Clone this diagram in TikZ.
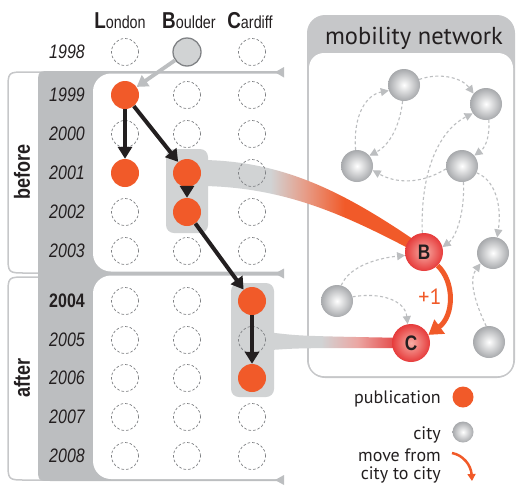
\documentclass[tikz,border=0pt]{standalone}
\usepackage{fontspec}
\setmainfont{PT Sans}
\newfontfamily\cond[FakeStretch=0.82]{Liberation Sans}
\usetikzlibrary{arrows.meta}
\definecolor{orng}{HTML}{F15A29}
\definecolor{ink}{HTML}{231F20}
\definecolor{bandgray}{HTML}{BCBEC0}
\definecolor{framegray}{HTML}{C6C7C9}
\definecolor{hlgray}{HTML}{D1D3D4}
\definecolor{dashgray}{HTML}{808285}
\definecolor{edgegray}{HTML}{BCBEC0}
\definecolor{ballout}{HTML}{A7A9AC}
\definecolor{redin}{HTML}{F8ADA5}
\definecolor{redout}{HTML}{E63B3B}
\definecolor{ribsalmon}{HTML}{E79C87}
\definecolor{ribpink}{HTML}{EBA7A3}
\definecolor{ribred}{HTML}{E44848}
\pgfdeclarehorizontalshading{ribB}{100bp}{color(0bp)=(hlgray); color(40bp)=(hlgray); color(48bp)=(ribsalmon); color(57bp)=(orng); color(100bp)=(orng)}
\pgfdeclarehorizontalshading{ribC}{100bp}{color(0bp)=(hlgray); color(43bp)=(hlgray); color(56bp)=(ribpink); color(70bp)=(ribred); color(100bp)=(ribred)}
\begin{document}
\begin{tikzpicture}[x=1pt,y=-1pt,
  pub/.style={circle, fill=orng, minimum size=28pt, inner sep=0pt},
  slot/.style={circle, draw=dashgray, line width=0.7pt, dash pattern=on 2.6pt off 2pt, minimum size=27pt, inner sep=0pt},
  city/.style={circle, inner color=white, outer color=ballout, minimum size=32pt, inner sep=0pt},
  hub/.style={circle, inner color=redin, outer color=redout, minimum size=38pt, inner sep=0pt, font=\cond\bfseries\fontsize{21}{21}\selectfont, text=ink},
  hbox/.style={fill=hlgray, rounded corners=8pt, inner sep=0pt},
  pubarrow/.style={draw=ink, line width=4pt, -{Triangle[length=12pt,width=14pt]}},
  netedge/.style={draw=edgegray, line width=1.1pt, dash pattern=on 3pt off 2.5pt, -{Triangle[length=8pt,width=8pt]}},
  yearlbl/.style={anchor=east, inner sep=0pt, font=\cond\itshape\fontsize{19.5}{20}\selectfont, text=ink},
  collbl/.style={anchor=base, inner sep=0pt, text=ink},
  phase/.style={rotate=90, inner sep=0pt, font=\cond\bfseries\fontsize{22}{22}\selectfont, text=ink},
  legtext/.style={anchor=base east, inner sep=0pt, font=\fontsize{18}{19}\selectfont, text=ink},
  tri/.style={fill=bandgray}
]
\useasboundingbox (0,0) rectangle (518,485);

% ---- left timeline frame ----
\draw[framegray, line width=1.5pt] (45,273) -- (26,273) .. controls (8,273) .. (8,255) -- (8,90) .. controls (8,72) .. (26,72) -- (60,72);
\draw[framegray, line width=1.5pt] (45,277) -- (26,277) .. controls (8,277) .. (8,295) -- (8,462) .. controls (8,480) .. (26,480) -- (60,480);
\fill[bandgray] (38,85) .. controls (38,71) .. (52,71) -- (280,71) -- (280,481) -- (52,481) .. controls (38,481) .. (38,467) -- cycle;
\fill[white, rounded corners=18pt] (93,73.5) rectangle (300,271.5);
\fill[white, rounded corners=18pt] (93,275.5) rectangle (300,479);
\fill[tri] (275,72.2) -- (284,67) -- (284,77.5) -- cycle;
\fill[tri] (275,273.5) -- (284,268.5) -- (284,278.5) -- cycle;
\fill[tri] (275,480) -- (284,475) -- (284,485) -- cycle;

\node[phase] (before) at (22,172) {before};
\node[phase] (after) at (22,378) {after};

% ---- column headers ----
\node[collbl] (hL) at (120,28) {{\cond\bfseries\fontsize{23}{23}\selectfont L}{\cond\fontsize{17.5}{17.5}\selectfont ondon}};
\node[collbl] (hB) at (189,28) {{\cond\bfseries\fontsize{23}{23}\selectfont B}{\cond\fontsize{17.5}{17.5}\selectfont oulder}};
\node[collbl] (hC) at (250,28) {{\cond\bfseries\fontsize{23}{23}\selectfont C}{\cond\fontsize{17.5}{17.5}\selectfont ardiff}};

% ---- year labels ----
\foreach \yr/\y in {1998/52,1999/95,2000/134,2001/173,2002/212,2003/251,2005/340,2006/378,2007/417,2008/456}
  \node[yearlbl] (y\yr) at (85,\y) {\yr};
\node[yearlbl, font=\cond\bfseries\fontsize{19.5}{20}\selectfont] (y2004) at (85,301) {2004};

% ---- highlight boxes ----
\node[hbox, minimum width=42pt, minimum height=84pt] (boxB) at (187,191) {};
\node[hbox, minimum width=43pt, minimum height=114pt] (boxC) at (252.5,340) {};

% ---- mobility network box ----
\fill[framegray, rounded corners=18pt] (307,15) rectangle (515,378);
\fill[white, rounded corners=15pt] (309,53) rectangle (513,376);
\node[inner sep=0pt, anchor=base, font=\fontsize{24.5}{24.5}\selectfont, text=ink] (nettitle) at (414,44) {mobility network};

% ---- ribbons ----
\shade[shading=ribB] (205,160) .. controls (285,162) and (345,192) .. (423,246) -- (423,256) .. controls (348,216) and (288,188) .. (205,186) -- cycle;
\shade[shading=ribC] (271,332.5) .. controls (300,336) .. (410,338) -- (410,348) .. controls (300,348) .. (271,350) -- cycle;

% ---- empty slots ----
\foreach \y in {52,134,212,251,301,340,378,417,456} \node[slot] at (125,\y) {};
\foreach \y in {95,134,251,301,340,378,417,456} \node[slot] at (187,\y) {};
\foreach \y in {52,95,134,173,212,251,340,417,456} \node[slot] at (252,\y) {};

% ---- origin city ----
\node[circle, fill=hlgray, draw=dashgray, line width=1.3pt, minimum size=28pt, inner sep=0pt] (B1998) at (187,52) {};

% ---- publications ----
\node[pub] (L1999) at (125,95) {};
\node[pub] (L2001) at (125,173) {};
\node[pub] (B2001) at (187,173) {};
\node[pub] (B2002) at (187,212) {};
\node[pub] (C2004) at (252,301) {};
\node[pub] (C2006) at (252,378) {};

\draw[draw=bandgray, line width=3.8pt, -{Triangle[length=11pt,width=13pt]}] (B1998) -- (L1999);
\draw[pubarrow] (L1999) -- (L2001);
\draw[pubarrow] (L1999) -- (B2001);
\draw[pubarrow] (B2001) -- (B2002);
\draw[pubarrow] (B2002) -- (C2004);
\draw[pubarrow] (C2004) -- (C2006);

% ---- network nodes ----
\node[city] (N1) at (404,85) {};
\node[city] (N2) at (486,104) {};
\node[city] (N3) at (357,166) {};
\node[city] (N4) at (462,166) {};
\node[city] (N5) at (493,253) {};
\node[city] (N6) at (337,301) {};
\node[city] (N7) at (489,342) {};
\node[hub] (B) at (424,252) {B};
\node[hub] (C) at (411,343) {C};

% ---- network edges ----
\draw[netedge] (N3.95) .. controls (353,115) and (366,95) .. (N1.200);
\draw[netedge] (N1.-95) .. controls (400,125) and (390,145) .. (N3.40);
\draw[netedge] (N1.20) .. controls (440,72) and (462,78) .. (N2.140);
\draw[netedge] (N2.-80) .. controls (490,135) and (486,147) .. (N4.40);
\draw[netedge] (N4.190) .. controls (420,185) and (395,183) .. (N3.-15);
\draw[netedge] (B.95) .. controls (420,170) and (440,130) .. (N2.215);
\draw[netedge] (N4.-85) .. controls (465,215) and (455,238) .. (B.15);
\draw[netedge] (N4.-25) .. controls (495,180) and (502,205) .. (N5.75);
\draw[netedge] (N6.75) .. controls (350,265) and (380,258) .. (B.190);
\draw[netedge] (N6.15) .. controls (380,292) and (405,300) .. (C.100);
\draw[netedge] (N7.100) .. controls (476,305) and (468,280) .. (N5.220);

% ---- move B -> C ----
\draw[draw=orng, line width=5pt, -{Triangle[length=14pt,width=17pt]}] (B.-45) .. controls (455,282) and (454,316) .. (C.25);
\node[inner sep=0pt, text=orng, font=\fontsize{22}{22}\selectfont] (plus) at (430,297) {+1};

% ---- legend ----
\node[legtext] (lpub) at (441,403) {publication};
\node[pub, minimum size=21pt] (lpubc) at (463,397) {};
\node[legtext] (lcity) at (441,439) {city};
\node[city, minimum size=21pt] (lcityc) at (463,432) {};
\node[anchor=north east, inner sep=0pt, align=right, font=\fontsize{18}{18}\selectfont, text=ink] (lmove) at (441,449) {move from\\city to city};
\coordinate (ma) at (452,453);
\coordinate (mb) at (472,481);
\draw[draw=orng, line width=2.5pt, -{Triangle[length=7pt,width=8pt]}] (ma) .. controls (463,455) and (471,465) .. (mb);
\end{tikzpicture}
\end{document}
